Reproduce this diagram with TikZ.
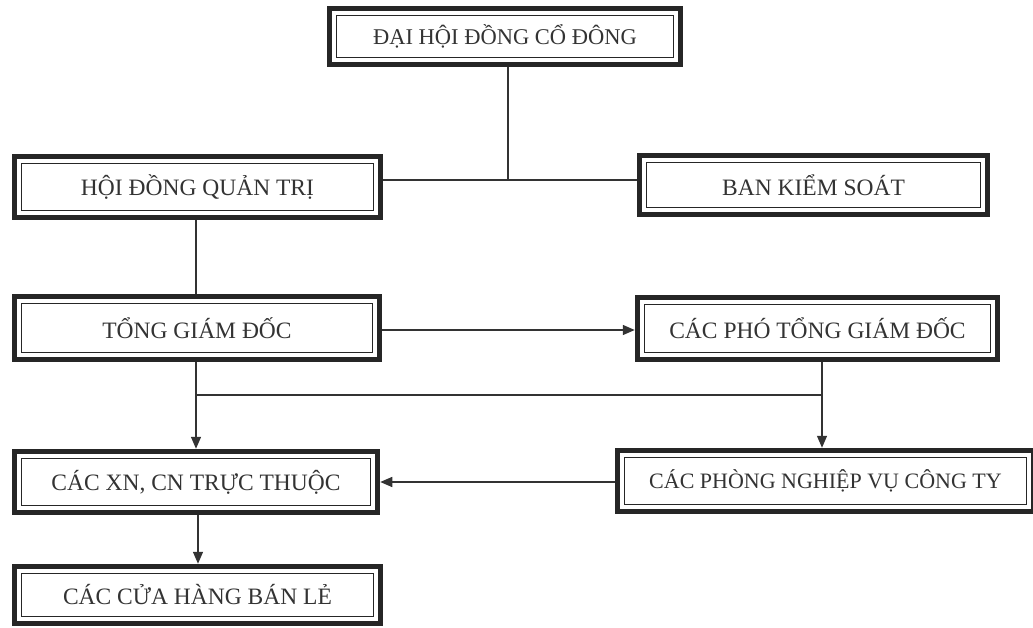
\documentclass[tikz,border=0pt]{standalone}
\usepackage{fontspec}
\setmainfont{Liberation Serif}
\usetikzlibrary{arrows.meta}
\begin{document}
\begin{tikzpicture}[x=1pt,y=-1pt,
  orgbox/.style={draw=black!85, line width=5.5pt, inner sep=0pt, outer sep=2.75pt,
    font=\fontsize{23.5}{26}\selectfont, text=black!80},
  conn/.style={draw=black!80, line width=1.4pt},
  arr/.style={conn, -{Triangle[length=12pt,width=10pt]}}]
\clip (0,0) rectangle (1033,628);
\fill[white] (0,0) rectangle (1033,628);
% boxes (outer bbox minus half line width)
\node[orgbox, minimum width=351pt, minimum height=56pt, font=\fontsize{22.5}{26}\selectfont] (dh) at (505,36.5) {ĐẠI HỘI ĐỒNG CỔ ĐÔNG};
\node[orgbox, minimum width=366pt, minimum height=61pt] (hd) at (197.5,187) {HỘI ĐỒNG QUẢN TRỊ};
\node[orgbox, minimum width=348pt, minimum height=59pt] (bk) at (813.5,185) {BAN KIỂM SOÁT};
\node[orgbox, minimum width=365pt, minimum height=63pt] (tg) at (197,328) {TỔNG GIÁM ĐỐC};
\node[orgbox, minimum width=360pt, minimum height=62pt] (pt) at (817.5,328.5) {CÁC PHÓ TỔNG GIÁM ĐỐC};
\node[orgbox, minimum width=363pt, minimum height=61pt] (xn) at (196,482) {CÁC XN, CN TRỰC THUỘC};
\node[orgbox, minimum width=416pt, minimum height=61pt, font=\fontsize{22}{26}\selectfont] (ph) at (825.5,481) {CÁC PHÒNG NGHIỆP VỤ CÔNG TY};
\node[orgbox, minimum width=366pt, minimum height=57pt] (ch) at (197.5,595) {CÁC CỬA HÀNG BÁN LẺ};
% inner thin frames
\foreach \n in {dh,hd,bk,tg,pt,xn,ph,ch}{
  \draw[black!85, line width=1.2pt] ([shift={(9.5pt,-9.5pt)}]\n.north west) rectangle ([shift={(-9.5pt,9.5pt)}]\n.south east);
}
% connectors
\coordinate (j1) at (508,180);
\coordinate (j2) at (196,395);
\coordinate (j3) at (822,395);
\draw[conn] (dh.south -| j1) -- (j1);
\draw[conn] (hd.east |- j1) -- (bk.west |- j1);
\draw[conn] (hd.south -| j2) -- (tg.north -| j2);
\draw[arr] (tg.east |- 0,330) -- (pt.west |- 0,330);
\draw[conn] (tg.south -| j2) -- (j2) -- (j3);
\draw[arr] (j2) -- (xn.north -| j2);
\draw[conn] (pt.south -| j3) -- (j3);
\draw[arr] (j3) -- (ph.north -| j3);
\draw[arr] (ph.west |- 0,482) -- (xn.east |- 0,482);
\draw[arr] (xn.south -| 198,0) -- (ch.north -| 198,0);
\end{tikzpicture}
\end{document}
